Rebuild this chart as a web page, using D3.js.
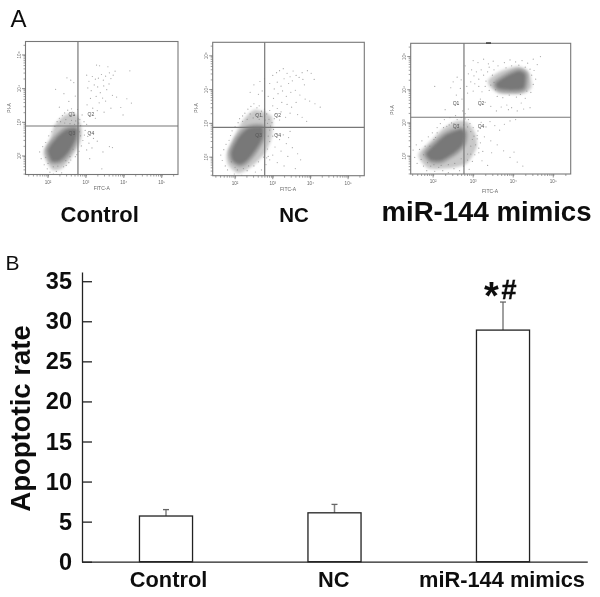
<!DOCTYPE html>
<html><head><meta charset="utf-8">
<script src="https://cdn.jsdelivr.net/npm/d3@7/dist/d3.min.js"></script>
<style>html,body{margin:0;background:#fff}svg{display:block}text{font-family:"Liberation Sans",Arial,sans-serif}</style>
</head><body><svg id="c" width="600" height="597"></svg>
<script>
// ---------- bar chart data (panel B) ----------
const groups = ["Control","NC","miR-144 mimics"];
const apoptoticRate = [5.7,6.1,28.9];
const errorTop = [6.5,7.15,32.4];
const rateTicks = [0,5,10,15,20,25,30,35];

// ---------- flow cytometry data (panel A), log10 FITC-A / log10 PI-A ----------
const decades = ["10²","10³","10⁴","10⁵"];
const control_core = [[2.01,2.18],[2.23,2.53],[2.49,2.77],[2.74,2.79],[2.71,2.48],[2.54,2.13],[2.32,1.88],[2.11,1.86]];
const control_halo = [[1.88,2.08],[2.05,2.48],[2.18,2.92],[2.45,3.22],[2.76,3.22],[2.89,2.77],[2.84,2.38],[2.63,1.98],[2.36,1.63],[2.10,1.60]];
const control_dots = [[3.28,4.70],[3.36,4.68],[3.58,4.65],[4.16,4.53],[3.72,4.40],[3.02,4.40],[3.81,3.75],[4.08,3.70],[4.20,3.57],[3.98,3.22],
[3.08,4.22],[3.17,4.36],[3.25,4.28],[3.33,4.31],[3.41,4.42],[3.46,4.25],[3.52,4.37],[3.62,4.47],[3.66,4.30],[3.77,4.52],[3.05,4.02],[3.14,3.94],[3.22,4.11],[3.31,4.05],[3.38,3.88],[3.47,4.08],[3.55,3.97],[3.61,4.14],[3.12,3.71],[3.27,3.77],[3.35,3.58],[3.44,3.72],[3.52,3.63],[3.70,3.80],[3.03,3.52],[3.18,3.42],[3.30,3.35],[3.10,3.18],[3.25,3.12],[3.48,3.30],[3.66,3.42],[3.92,3.44],
[2.50,4.32],[2.60,4.25],[2.68,4.18],[2.20,3.98],[2.42,3.85],[2.55,3.62],[2.72,3.78],[2.30,3.45],[2.62,3.40],[2.84,3.08],[2.90,3.22],[2.95,3.02],[3.02,2.94],[3.12,2.70],[3.20,2.52],[3.30,2.44],[3.08,2.38],[3.02,2.18],[3.16,2.24],[3.45,2.12],[3.62,2.28],[3.70,2.25],[3.10,1.92],[3.42,1.62],[2.96,2.62],[2.92,2.46],[2.98,2.76],[3.05,2.58],
[1.78,2.12],[1.82,1.92],[1.86,2.28],[1.90,1.74],[1.94,2.40],[1.98,1.62],[2.02,2.60],[2.05,1.52],[2.10,2.72],[2.14,1.46],[2.18,2.88],[2.22,1.54],[2.24,3.02],[2.30,3.12],[2.36,1.50],[2.38,3.20],[2.44,3.28],[2.48,1.72],[2.52,3.36],[2.58,3.18],[2.60,1.88],[2.64,3.30],[2.70,3.22],[2.72,1.98],[2.78,3.38],[2.80,3.10],[2.82,2.14],[2.86,2.90],[2.88,2.30],[2.76,2.04],[2.33,3.02],[2.47,3.08],[2.62,3.06],[2.73,3.04],[2.81,2.98],[2.70,2.94],[2.58,2.96],[2.44,2.98],[2.83,2.72],[2.86,2.60],[2.66,2.20],[2.58,1.98],[2.47,1.86],[2.26,1.70],[2.14,1.68],[2.00,1.78],[1.94,1.96],[2.41,1.68],[2.55,1.80]];

const nc_core = [[1.91,2.16],[2.09,2.56],[2.35,2.85],[2.71,2.88],[2.71,2.56],[2.53,2.21],[2.31,1.91],[2.13,1.80],[1.95,1.91]];
const nc_halo = [[1.78,2.11],[2.00,2.66],[2.22,3.10],[2.53,3.40],[2.97,3.20],[2.97,2.60],[2.79,2.11],[2.44,1.72],[2.09,1.52],[1.82,1.77]];
const nc_dots = [[3.00,4.42],[3.10,4.50],[3.18,4.56],[3.28,4.62],[3.38,4.48],[3.46,4.38],[3.54,4.55],[3.62,4.42],[3.70,4.36],[3.80,4.30],[3.78,4.50],[3.92,4.56],[4.02,4.48],[4.10,4.30],[3.84,4.14],[3.52,4.26],[3.42,4.18],[3.30,4.32],[3.22,4.10],[3.12,4.22],[3.04,4.02],[2.92,4.18],[2.78,4.32],[2.66,4.24],[2.50,4.14],[2.40,3.92],[2.62,3.86],[2.72,3.96],[2.88,3.80],[3.02,3.74],[3.14,3.88],[3.26,3.96],[3.36,3.80],[3.48,3.92],[3.60,3.98],[3.72,3.84],[3.86,3.72],[3.98,3.66],[4.12,3.58],[4.26,3.48],[3.62,3.62],[3.50,3.48],[3.38,3.56],[3.24,3.62],[3.12,3.44],[3.00,3.52],[2.92,3.38],[3.08,3.28],[3.22,3.34],[3.34,3.18],[3.46,3.30],[3.66,3.26],[3.78,3.18],[3.18,3.10],[3.04,3.14],[2.98,3.02],[3.90,3.06],
[3.02,2.82],[3.10,2.68],[3.18,2.52],[3.28,2.66],[3.36,2.40],[3.42,2.58],[3.52,2.28],[3.66,2.10],[3.74,1.92],[3.40,2.02],[3.22,2.18],[3.06,2.30],[3.00,2.06],[2.92,1.92],[3.12,1.84],[3.30,1.74],[2.82,1.78],[2.70,1.62],[2.54,1.56],[2.92,2.46],[3.00,2.62],[2.86,2.24],[2.88,2.02],[3.60,1.66],[3.46,2.76],
[1.62,2.06],[1.66,1.90],[1.70,2.22],[1.74,1.74],[1.76,2.38],[1.80,1.62],[1.84,2.50],[1.88,2.64],[1.92,2.78],[1.98,1.50],[2.00,2.90],[2.06,1.62],[2.08,3.02],[2.12,3.14],[2.18,1.46],[2.20,3.22],[2.26,3.30],[2.32,1.60],[2.34,3.42],[2.42,3.50],[2.50,3.58],[2.58,3.46],[2.64,3.52],[2.70,3.36],[2.78,3.42],[2.84,3.28],[2.90,3.12],[2.84,1.98],[2.76,2.00],[2.62,1.86],[2.50,1.74],[2.36,1.74],[2.22,1.66],[2.00,1.70],[1.90,1.86],[2.20,3.06],[2.40,3.28],[2.56,3.26],[2.72,3.20],[2.86,3.00],[2.92,2.80],[2.88,2.62],[2.32,3.12],[2.48,3.16],[2.64,3.12],[2.80,3.10],[2.94,2.92]];

const mimics_core = [[1.84,2.08],[2.09,2.39],[2.34,2.64],[2.67,2.79],[2.78,2.69],[2.75,2.39],[2.55,2.13],[2.21,1.88],[1.96,1.88]];
const mimics_halo = [[1.63,2.03],[1.92,2.43],[2.21,2.79],[2.55,3.04],[2.84,3.04],[3.05,2.69],[3.09,2.28],[2.84,1.78],[2.38,1.63],[1.88,1.63]];
const mimics_upper_core = [[3.59,4.20],[3.84,4.40],[4.13,4.55],[4.29,4.45],[4.25,4.05],[3.92,4.00],[3.63,4.05]];
const mimics_upper_halo = [[3.38,4.30],[3.67,4.55],[4.09,4.70],[4.38,4.55],[4.46,4.09],[4.25,3.89],[3.67,3.89],[3.42,4.09]];
const mimics_dots = [[3.00,4.88],[3.12,4.82],[3.26,4.92],[3.38,4.78],[3.50,4.86],[3.62,4.72],[3.78,4.82],[3.92,4.90],[4.06,4.84],[4.22,4.88],[4.36,4.80],[4.50,4.92],[4.68,5.00],[4.60,4.76],[4.52,4.58],[4.56,4.32],[4.50,4.16],[4.44,3.92],[4.30,3.74],[4.20,3.60],[4.26,3.42],[4.10,3.36],[3.96,3.46],[3.84,3.54],[3.70,3.48],[3.58,3.36],[3.44,3.50],[3.30,3.62],[3.18,3.72],
[2.80,4.72],[2.88,4.48],[2.96,4.60],[3.02,4.42],[3.08,4.54],[3.14,4.32],[3.20,4.60],[3.26,4.44],[3.32,4.26],[3.36,4.54],[3.40,4.68],[3.44,4.14],[3.48,4.44],[3.52,4.60],[3.56,4.00],[3.30,4.10],[3.22,3.94],[3.14,4.10],[3.04,4.18],[2.94,4.24],[2.84,4.10],[2.70,4.30],[2.60,4.38],[2.50,4.24],[2.44,4.06],[2.68,4.04],[2.58,3.84],[2.72,3.72],[2.86,3.90],[3.00,3.96],[3.60,3.80],[3.74,3.76],[3.90,3.84],[4.08,3.78],[4.18,3.86],[4.34,3.96],[3.82,4.66],[3.96,4.72],[4.14,4.74],[4.30,4.68],[4.42,4.62],[4.46,4.44],[3.52,4.22],[3.40,3.98],[2.88,3.42],[2.80,3.28],[2.74,3.36],[2.30,3.40],[2.04,4.10],[2.62,3.56],[4.42,3.46],[3.88,3.40],
[3.20,3.02],[3.32,2.88],[3.42,3.04],[3.54,2.92],[3.66,2.78],[3.78,2.96],[3.92,3.06],[4.06,3.10],[3.12,2.76],[3.28,2.58],[3.44,2.46],[3.60,2.34],[3.76,2.16],[3.92,1.96],[4.10,1.82],[4.24,1.70],[4.02,2.12],[3.46,2.10],[3.22,1.86],[3.14,2.24],[3.36,1.72],[3.10,2.52],[3.18,2.40],[3.24,2.14],
[1.50,2.18],[1.54,1.96],[1.58,2.34],[1.60,1.78],[1.66,2.20],[1.70,1.90],[1.72,2.46],[1.76,1.70],[1.80,2.30],[1.84,1.56],[1.88,2.58],[1.94,1.70],[1.98,2.70],[2.04,1.54],[2.06,2.56],[2.10,2.86],[2.14,1.66],[2.18,2.98],[2.24,1.56],[2.28,3.10],[2.34,2.90],[2.38,1.50],[2.42,3.16],[2.46,3.00],[2.52,1.62],[2.56,3.22],[2.60,3.10],[2.66,1.56],[2.70,3.16],[2.76,1.70],[2.80,3.12],[2.88,3.10],[2.90,1.60],[2.92,2.98],[3.00,2.86],[2.98,1.84],[3.04,2.04],[3.06,2.34],[3.10,2.62],[3.14,2.10],[3.02,2.60],[2.94,2.06],[2.86,1.88],
[2.10,2.70],[2.26,2.86],[2.40,2.94],[2.52,2.98],[2.64,2.96],[2.76,2.94],[2.86,2.88],[2.94,2.74],[2.98,2.50],[2.94,2.30],[2.86,2.06],[2.70,1.92],[2.54,1.78],[2.38,1.74],[2.20,1.72],[2.02,1.74],[1.86,1.80],[1.76,2.04],[1.92,2.30],[2.02,2.50]];

// ---------- layout ----------
const panels = [
 {frame:[25.5,178,174.5,41.5],dx:[1.406,5.43],dy:[1.45,5.4],gx:2.79,gy:2.89,q:[[-6,-12],[13,-12],[-6,7],[13,7]],fitcY:190,piX:11,piY:108,fitcX:101.7,
  blobs:[[control_halo,control_core]],dots:control_dots},
 {frame:[212.7,364.3,175.7,42.3],dx:[1.406,5.43],dy:[1.45,5.4],gx:2.786,gy:2.883,q:[[-6,-12],[13,-12],[-6,8],[13,8]],fitcY:191,piX:198,piY:108,fitcX:288,
  blobs:[[nc_halo,nc_core]],dots:nc_dots},
 {frame:[410.7,570.7,174,43.3],dx:[1.44,5.435],dy:[1.46,5.4],gx:2.77,gy:3.17,q:[[-8,-14],[17,-14],[-8,9],[17,9]],fitcY:192.5,piX:394,piY:110,fitcX:490,
  blobs:[[mimics_halo,mimics_core],[mimics_upper_halo,mimics_upper_core]],dots:mimics_dots}
];
const svg = d3.select("#c");
svg.append("rect").attr("width",600).attr("height",597).attr("fill","#fff");
const defs = svg.append("defs");
defs.append("filter").attr("id","b3").attr("x","-40%").attr("y","-40%").attr("width","180%").attr("height","180%")
  .append("feGaussianBlur").attr("stdDeviation",1.6);
defs.append("filter").attr("id","b1").attr("x","-30%").attr("y","-30%").attr("width","160%").attr("height","160%")
  .append("feGaussianBlur").attr("stdDeviation",1);
defs.append("filter").attr("id","b0").attr("filterUnits","userSpaceOnUse").attr("x",0).attr("y",0).attr("width",600).attr("height",597)
  .append("feGaussianBlur").attr("stdDeviation",0.35);
const root = svg.append("g").attr("filter","url(#b0)");

const grey="#777";
panels.forEach(p=>{
  const [x0,x1,y0,y1]=p.frame;
  const x=d3.scaleLinear().domain(p.dx).range([x0,x1]);
  const y=d3.scaleLinear().domain(p.dy).range([y0,y1]);
  const g=root.append("g");
  const line=d3.line().x(d=>x(d[0])).y(d=>y(d[1])).curve(d3.curveCardinalClosed.tension(0.3));
  p.blobs.forEach(([halo,core])=>{
    g.append("path").attr("d",line(halo)).attr("fill","#c8c8c8").attr("filter","url(#b3)");
    g.append("path").attr("d",line(core)).attr("fill","#9a9a9a").attr("stroke","#9a9a9a").attr("stroke-width",6).attr("stroke-linejoin","round").attr("filter","url(#b3)");
    g.append("path").attr("d",line(core)).attr("fill","#787878").attr("filter","url(#b1)");
  });
  g.selectAll("circle.d").data(p.dots).join("circle").attr("class","d")
    .attr("cx",d=>x(d[0])).attr("cy",d=>y(d[1])).attr("r",0.6).attr("fill","#808080").attr("opacity",0.7);
  g.append("rect").attr("x",x0).attr("y",y1).attr("width",x1-x0).attr("height",y0-y1)
    .attr("fill","none").attr("stroke",grey).attr("stroke-width",1.1);
  g.append("line").attr("x1",x(p.gx)).attr("x2",x(p.gx)).attr("y1",y0).attr("y2",y1).attr("stroke",grey).attr("stroke-width",1.2);
  g.append("line").attr("y1",y(p.gy)).attr("y2",y(p.gy)).attr("x1",x0).attr("x2",x1).attr("stroke",grey).attr("stroke-width",1.2);
  const minor=[];
  for(let d=1;d<=5;d++)for(let k=1;k<10;k++){const v=d+Math.log10(k);
    if(v>=p.dx[0]&&v<=p.dx[1])minor.push(v);}
  const minorY=minor.filter(v=>v>=p.dy[0]&&v<=p.dy[1]);
  const ax=d3.axisBottom(x).tickValues(minor).tickSize(2).tickFormat("");
  const ay=d3.axisLeft(y).tickValues(minorY).tickSize(2).tickFormat("");
  const gax=g.append("g").attr("transform",`translate(0,${y0})`).call(ax);
  const gay=g.append("g").attr("transform",`translate(${x0},0)`).call(ay);
  [gax,gay].forEach(s=>{s.select(".domain").remove();s.selectAll("line").attr("stroke",grey).attr("stroke-width",0.7);});
  decades.forEach((t,i)=>{
    g.append("line").attr("x1",x(i+2)).attr("x2",x(i+2)).attr("y1",y0).attr("y2",y0+3.5).attr("stroke",grey).attr("stroke-width",0.8);
    g.append("line").attr("y1",y(i+2)).attr("y2",y(i+2)).attr("x1",x0).attr("x2",x0-3.5).attr("stroke",grey).attr("stroke-width",0.8);
    g.append("text").attr("x",x(i+2)).attr("y",y0+9).attr("text-anchor","middle").attr("font-size",4.6).attr("fill","#666").text(t);
    g.append("text").attr("transform",`translate(${x0-5},${y(i+2)}) rotate(-90)`).attr("text-anchor","middle").attr("font-size",4.6).attr("fill","#666").text(t);
  });
  ["Q1","Q2","Q3","Q4"].forEach((t,i)=>{
    g.append("text").attr("x",x(p.gx)+p.q[i][0]).attr("y",y(p.gy)+p.q[i][1]+2).attr("text-anchor","middle")
      .attr("font-size",5).attr("fill","#555").text(t);
  });
  g.append("text").attr("x",p.fitcX).attr("y",p.fitcY).attr("text-anchor","middle").attr("font-size",5).attr("fill","#666").text("FITC-A");
  g.append("text").attr("transform",`translate(${p.piX},${p.piY}) rotate(-90)`).attr("text-anchor","middle").attr("font-size",5).attr("fill","#666").text("PI-A");
});
root.append("line").attr("x1",486).attr("x2",491).attr("y1",43).attr("y2",43).attr("stroke","#333").attr("stroke-width",1.4);

const T=(t,x,y,size,weight,anchor)=>root.append("text").attr("x",x).attr("y",y).attr("font-size",size)
  .attr("font-weight",weight||"normal").attr("text-anchor",anchor||"start").attr("fill","#111").text(t);
T("A",10.5,26.7,24);
T("B",5.5,269.5,21);
T(groups[0],99.7,222,22,"bold","middle");
T(groups[1],294,222,20.5,"bold","middle");
T(groups[2],486.5,221,27.6,"bold","middle");

// ---------- panel B bars ----------
const bx=d3.scaleBand().domain(groups).range([81.75,587.25]).paddingInner(0.685).paddingOuter(0.3425);
const by=d3.scaleLinear().domain([0,36.15]).range([561.7,272]);
const gb=root.append("g");
gb.selectAll("line.err").data(groups).join("line").attr("class","err")
  .attr("x1",d=>bx(d)+bx.bandwidth()/2).attr("x2",d=>bx(d)+bx.bandwidth()/2)
  .attr("y1",(d,i)=>by(apoptoticRate[i])).attr("y2",(d,i)=>by(errorTop[i]))
  .attr("stroke","#808080").attr("stroke-width",1.5);
gb.selectAll("line.cap").data(groups).join("line").attr("class","cap")
  .attr("x1",d=>bx(d)+bx.bandwidth()/2-3).attr("x2",d=>bx(d)+bx.bandwidth()/2+3)
  .attr("y1",(d,i)=>by(errorTop[i])).attr("y2",(d,i)=>by(errorTop[i]))
  .attr("stroke","#666").attr("stroke-width",1.3);
gb.selectAll("rect.bar").data(groups).join("rect").attr("class","bar")
  .attr("x",d=>bx(d)).attr("width",bx.bandwidth())
  .attr("y",(d,i)=>by(apoptoticRate[i])).attr("height",(d,i)=>by(0)-by(apoptoticRate[i]))
  .attr("fill","#fff").attr("stroke","#222").attr("stroke-width",1.3);
const yAxis=d3.axisLeft(by).tickValues(rateTicks).tickSize(-10).tickSizeOuter(0).tickPadding(10);
const gy=gb.append("g").attr("transform","translate(82,0)").call(yAxis);
const xAxis=d3.axisBottom(bx).tickSize(0).tickPadding(9.4);
const gx=gb.append("g").attr("transform","translate(0,561.7)").call(xAxis);
[gy,gx].forEach(s=>{s.selectAll(".domain,line").attr("stroke","#222").attr("stroke-width",1.3);
  s.selectAll("text").attr("font-family",'"Liberation Sans"').attr("font-weight","bold").attr("fill","#111");});
gy.selectAll("text").attr("font-size",23.5);
gx.selectAll("text").attr("font-size",21.8).attr("dx",(d,i)=>[2.5,-0.8,-1][i]);
root.append("text").attr("transform","translate(29.5,418.5) rotate(-90)").attr("text-anchor","middle")
  .attr("font-size",27.5).attr("font-weight","bold").attr("fill","#111").text("Apoptotic rate");
T("*",484,309,38,"bold");
T("#",501.5,298.5,27,"bold").attr("stroke","#111").attr("stroke-width",0.4);
</script></body></html>
